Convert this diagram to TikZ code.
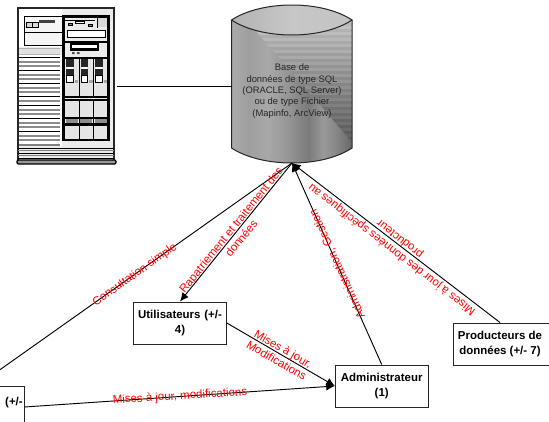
\documentclass[tikz,border=0pt]{standalone}
\usepackage{fontspec}
\setmainfont{Liberation Sans}
\usetikzlibrary{arrows.meta}
\pgfdeclarehorizontalshading{dbstrips}{100bp}{
 color(0bp)=(black!25); color(7bp)=(black!18); color(15bp)=(black!25); color(24bp)=(black!32); color(32bp)=(black!38);
 color(40bp)=(black!34); color(49bp)=(black!42); color(57bp)=(black!52); color(63bp)=(black!40); color(69bp)=(black!48);
 color(75bp)=(black!60); color(81bp)=(black!55); color(88bp)=(black!68); color(94bp)=(black!72); color(100bp)=(black!60)}
\pgfdeclarehorizontalshading{dblens}{100bp}{
 color(0bp)=(black!38); color(50bp)=(black!22); color(100bp)=(black!25)}
\tikzset{
 conn/.style={draw=black,line width=.7pt},
 arr/.style={conn,-{Latex[length=6.5pt,width=6pt]}},
 actor/.style={draw=black!85,line width=.75pt,fill=white,inner sep=0pt,align=center,
   font=\fontsize{8.6}{10.6}\selectfont\bfseries,minimum height=31.5pt},
 lbl/.style={text=red,inner sep=0pt,align=center,font=\fontsize{8.6}{10}\selectfont},
 srv/.style={draw=black,line width=.75pt},
 srvk/.style={draw=black,line width=1.6pt},
}
\begin{document}
\begin{tikzpicture}[x=0.75pt,y=-0.75pt]
\useasboundingbox (0,0) rectangle (549,421);
\clip (0,0) rectangle (549,421);
\fill[white] (0,0) rectangle (549,421);
% server
\fill[black!8] (19,9) rectangle (113,160);
\fill[white] (19,9) rectangle (62,47);
\fill[white] (19,55) rectangle (62,146);
\draw[line width=.9pt,draw=black!85] (18,160) -- (18,8) -- (114,8) -- (114,160);
\draw[srv,fill=black!4] (24,16) rectangle (69,45);
\draw[srv] (24,32) -- (69,32);
\fill[black!12] (19,48) rectangle (60,54);
\draw[black!30,line width=.5pt] (19,48) -- (60,48) (19,54) -- (60,54);
\draw[srv,fill=black!15] (26,22.5) rectangle (32,27);
\draw[srv,fill=black!15] (32,22.5) rectangle (38,27);
\fill[black!75] (39,20) rectangle (55,22.5);
\foreach \yy in {57.5,70.5,83.5,96.5,105,118,131,144}{\draw[black,line width=.7pt] (19,\yy) -- (60,\yy);}
\foreach \yy in {62,66,75,79,88,92,101,110,114,123,127,136,140}{\draw[black!45,line width=.9pt] (19,\yy) -- (60,\yy);}
\draw[black!50,line width=.8pt] (19,145) -- (60,145);
% right bay
\fill[black!8] (64,17) rectangle (108,139);
\fill[black!15] (97,18) rectangle (108,27);
\draw[black,line width=.5pt] (97,18) -- (97,28);
\draw[black,line width=1.4pt] (64,20.5) -- (95,20.5);
\draw[srv,fill=white] (67,30) rectangle (105,37);
\draw[srv,fill=black!50] (68,23) rectangle (72,25);
\draw[srv,fill=white] (75,21.5) rectangle (84,23.5);
\draw[srv,fill=black!50] (88,24) rectangle (92,26);
\draw[black,line width=1pt] (64,42) -- (108,42);
\draw[srvk,fill=white] (71,43.5) rectangle (98,49.5);
\fill[black!70] (72,52) rectangle (74.5,54) (77,52) rectangle (79.5,54);
\draw[black,line width=1.2pt] (64,58) -- (108,58);
\foreach \xx in {64.5,79,93.5}{
 \fill[black!10] (\xx,59) rectangle (\xx+14,96);
 \fill[black!85] (\xx+1.5,59) rectangle (\xx+9,67);
 \fill[white] (\xx+2.5,67) rectangle (\xx+8,69);
 \fill[black!85] (\xx+1.5,69) rectangle (\xx+9,75);
 \draw[black,line width=.6pt,fill=white] (\xx+2,75) rectangle (\xx+8.5,82);
 \fill[black!35] (\xx+10,80) rectangle (\xx+13.5,83);
}
\foreach \xx in {79,93.5}{\draw[black,line width=.7pt] (\xx,59) -- (\xx,97);}
\draw[black,line width=2pt] (64,97) -- (108,97);
\foreach \xx in {64.5,79,93.5}{
 \fill[black!10] (\xx,101) rectangle (\xx+14,118);
 \fill[black!45] (\xx+1,119) rectangle (\xx+13,124);
 \fill[black!10] (\xx,125) rectangle (\xx+14,139);
}
\foreach \xx in {79,93.5}{\draw[black,line width=.7pt] (\xx,100) -- (\xx,140);}
\draw[black,line width=1.3pt] (64,100) -- (108,100);
\draw[black,line width=1.6pt] (64,118) -- (108,118) (64,124.5) -- (108,124.5);
\draw[srvk] (63.5,16.5) rectangle (108.5,140);
% base stripes
\draw[black,line width=.6pt] (18,148) -- (114,148) (18,153) -- (114,153) (18,158) -- (114,158);
\draw[black!50,line width=.6pt] (18,150.5) -- (114,150.5) (18,155.5) -- (114,155.5);
\draw[line width=.9pt,draw=black,fill=black!40,rounded corners=1pt] (17,160) rectangle (116,164);
% database
\begin{scope}
 \clip (231.5,20) -- (231.5,148) .. controls (262,168) and (322,168) .. (352,148) -- (352,20) -- cycle;
 \shade[shading=dbstrips] (231.5,0) rectangle (352,170);
 \clip (255,30) -- (352,142) -- (352,20) -- (255,20) -- cycle;
 \foreach \yy [count=\i] in {20,23,...,146}{
   \pgfmathsetmacro{\gv}{22+(\yy-20)*0.33+(mod(\i,2)==0 ? 5 : 0)}
   \fill[black!\gv] (250,\yy) rectangle (353,\yy+3.2);
 }
\end{scope}
\draw[line width=.75pt,draw=black!85,shading=dblens] (231.5,20) .. controls (262,0) and (322,0) .. (352,20) .. controls (322,40) and (262,40) .. (231.5,20) -- cycle;
\draw[line width=.75pt,draw=black!85] (231.5,20) -- (231.5,148) .. controls (262,168) and (322,168) .. (352,148) -- (352,20);
\node[inner sep=0pt,align=center,text=black!85,font=\fontsize{7.05}{8.5}\selectfont] (dbtext) at (292,91) {Base de\\données de type SQL\\(ORACLE, SQL Server)\\ou de type Fichier\\(Mapinfo, ArcView)};
\coordinate (dbtip) at (292,163);
\coordinate (dbleft) at (231.5,86);
\coordinate (srvright) at (117,86);
% actors
\node[actor,minimum width=69.5pt,text width=66pt] (util) at (180,323) {Utilisateurs (+/-\\4)};
\node[actor,minimum width=69.5pt,text width=66pt] (admin) at (381.7,386) {Administrateur\\(1)};
\node[actor,minimum width=72pt,anchor=west] (prod) at (453,344) {};
\node[inner sep=0pt,align=center,font=\fontsize{8.6}{10.6}\selectfont\bfseries] (prodtext) at (500,344) {Producteurs de\\données (+/- 7)};
\node[actor,minimum width=69.5pt,anchor=east] (cons) at (24.5,407) {};
\node[inner sep=0pt,anchor=east,font=\fontsize{8.6}{10.6}\selectfont\bfseries] (constext) at (23,402.5) {(+/-};
% connectors
\draw[conn] (srvright) -- (dbleft);
\draw[conn] (cons.north) -- (dbtip);
\draw[arr] (dbtip) -- (util.north);
\draw[arr] (admin.north) -- (dbtip);
\draw[arr] (prod.north -| 500,323) -- (dbtip);
\draw[arr] (util.east) -- (admin.west);
\draw[arr] (cons.east) -- (admin.west);
% labels
\node[lbl,rotate=35.3] (l1) at (135,275) {Consultation simple};
\node[lbl,rotate=51.1] (l2) at (236,234) {Rapatriement et traitement des\\données};
\node[lbl,rotate=142.4] (l3) at (396,244) {Mises à jour des données spécifiques au\\producteur};
\node[lbl,rotate=114.5] (l4) at (337.5,264) {Administration, Gestion};
\node[lbl,rotate=-30] (l5) at (280,354.5) {Mises à jour,\\Modifications};
\node[lbl,rotate=3.5] (l6) at (180,396.5) {Mises à jour, modifications};
\end{tikzpicture}
\end{document}
